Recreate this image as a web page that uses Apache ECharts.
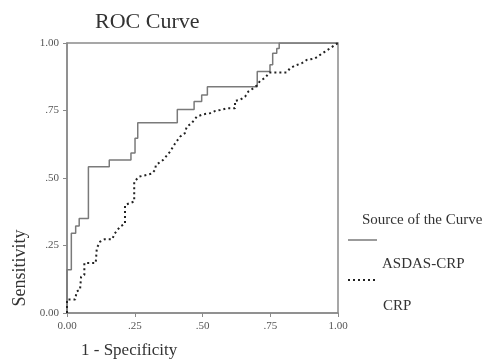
<!DOCTYPE html>
<html>
<head>
<meta charset="utf-8">
<script src="https://cdn.jsdelivr.net/npm/echarts@6/dist/echarts.min.js"></script>
<style>
  html, body { margin: 0; padding: 0; background: #fff; }
  #chart { width: 489px; height: 361px; }
</style>
</head>
<body>
<div id="chart"></div>
<script>
// ROC points as [1 - specificity, sensitivity]
const asdasCrp = [
  [0, 0], [0, 0.16], [0.016, 0.295], [0.032, 0.322], [0.045, 0.35],
  [0.079, 0.542], [0.156, 0.567], [0.236, 0.593], [0.251, 0.647], [0.261, 0.705],
  [0.407, 0.754], [0.469, 0.783], [0.497, 0.807], [0.518, 0.838], [0.702, 0.894],
  [0.749, 0.919], [0.759, 0.962], [0.774, 0.98], [0.783, 1.0], [1, 1]
]

const crp = [
  [0, 0], [0, 0.05], [0.03, 0.05], [0.036, 0.08], [0.048, 0.086], [0.052, 0.134],
  [0.064, 0.141], [0.064, 0.185], [0.106, 0.185], [0.11, 0.24], [0.122, 0.264],
  [0.138, 0.273], [0.167, 0.273], [0.175, 0.293], [0.196, 0.32], [0.214, 0.331],
  [0.214, 0.4], [0.248, 0.413], [0.248, 0.486], [0.266, 0.505], [0.313, 0.516],
  [0.325, 0.53], [0.328, 0.548], [0.355, 0.567], [0.38, 0.597], [0.399, 0.628],
  [0.417, 0.653], [0.435, 0.666], [0.442, 0.69], [0.46, 0.703], [0.479, 0.727],
  [0.503, 0.736], [0.528, 0.74], [0.546, 0.748], [0.565, 0.752], [0.589, 0.758],
  [0.62, 0.758], [0.62, 0.785], [0.638, 0.79], [0.657, 0.801], [0.669, 0.82],
  [0.687, 0.832], [0.7, 0.842], [0.712, 0.859], [0.731, 0.871], [0.747, 0.891],
  [0.81, 0.891], [0.823, 0.906], [0.841, 0.916], [0.866, 0.925], [0.884, 0.937],
  [0.915, 0.943], [0.934, 0.956], [0.952, 0.968], [0.97, 0.98], [0.989, 0.993], [1, 1]
]

const seriesNames = ['ASDAS-CRP', 'CRP']

const fmtTick = (v) => {
  if (v === 0) return '0.00'
  if (v === 1) return '1.00'
  return '.' + v.toFixed(2).slice(2)
}

const serif = '"Liberation Serif", "DejaVu Serif", serif'
const axisColor = '#8a8a8a'

const chart = echarts.init(document.getElementById('chart'))

const axisCommon = {
  type: 'value',
  min: 0,
  max: 1,
  interval: 0.25,
  axisLine: { show: true, lineStyle: { color: axisColor, width: 1.5 } },
  axisTick: { show: true, length: 4, lineStyle: { color: axisColor } },
  splitLine: { show: false },
  axisLabel: {
    formatter: fmtTick,
    fontFamily: serif,
    fontSize: 11,
    color: '#555',
  },
}

chart.setOption({
  animation: false,
  title: {
    text: 'ROC Curve',
    left: 90,
    top: 6,
    textStyle: { fontFamily: serif, fontSize: 22, fontWeight: 'normal', color: '#333' },
  },
  grid: {
    left: 67, top: 43, width: 271, height: 270,
    show: true, borderColor: axisColor, borderWidth: 1.5,
  },
  xAxis: {
    ...axisCommon,
    name: '1 - Specificity',
    nameLocation: 'start',
    nameGap: 0,
    nameTextStyle: {
      fontFamily: serif, fontSize: 17, color: '#333',
      align: 'left', verticalAlign: 'top', padding: [29, 0, 0, 14],
    },
    axisLabel: { ...axisCommon.axisLabel, margin: 8 },
  },
  yAxis: {
    ...axisCommon,
    name: 'Sensitivity',
    nameLocation: 'middle',
    nameGap: 37,
    nameTextStyle: { fontFamily: serif, fontSize: 18, color: '#333', padding: [0, 180, 0, 0] },
    nameRotate: 90,
    axisLabel: { ...axisCommon.axisLabel, margin: 8 },
  },
  series: [
    {
      name: seriesNames[0],
      type: 'line',
      step: 'end',
      symbol: 'none',
      lineStyle: { color: '#7a7a7a', width: 1.5 },
      data: asdasCrp,
      z: 2,
    },
    {
      name: seriesNames[1],
      type: 'line',
      symbol: 'none',
      lineStyle: { color: '#222', width: 2, type: [2, 3] },
      data: crp,
      z: 3,
    },
  ],
  graphic: [
    {
      type: 'text', left: 362, top: 213,
      style: { text: 'Source of the Curve', font: '15px ' + serif, fill: '#333' },
    },
    {
      type: 'line', shape: { x1: 348, y1: 240, x2: 377, y2: 240 },
      style: { stroke: '#7a7a7a', lineWidth: 1.5 },
    },
    {
      type: 'text', left: 382, top: 257,
      style: { text: seriesNames[0], font: '15px ' + serif, fill: '#333' },
    },
    {
      type: 'line', shape: { x1: 348, y1: 280, x2: 377, y2: 280 },
      style: { stroke: '#222', lineWidth: 2, lineDash: [2, 3] },
    },
    {
      type: 'text', left: 383, top: 299,
      style: { text: seriesNames[1], font: '15px ' + serif, fill: '#333' },
    },
  ],
})
</script>
</body>
</html>
